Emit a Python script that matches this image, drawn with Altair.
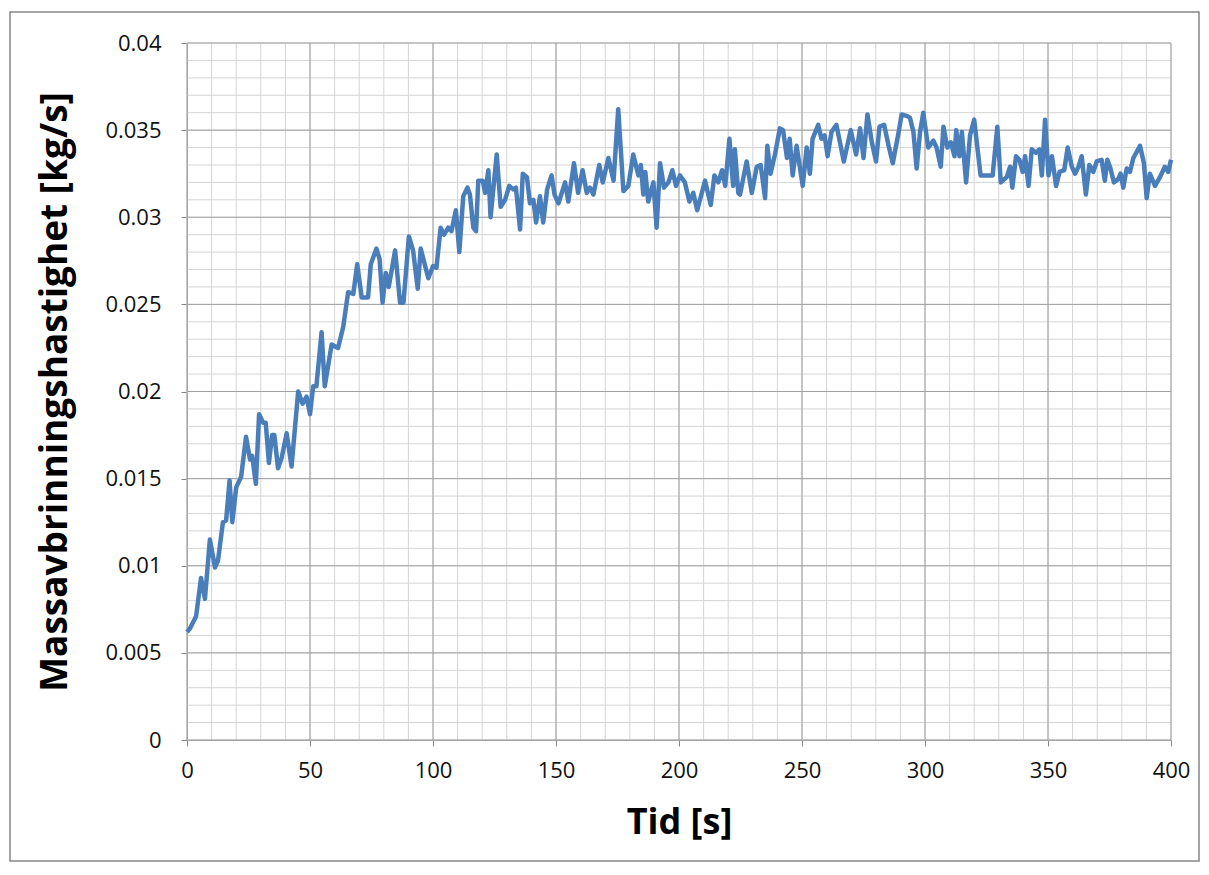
import altair as alt
import pandas as pd

# --- data ---
time_s = [0, 1.2, 3.7, 5.7, 7.3, 9.3, 11.4, 12.6, 14.6, 15.9, 17.3, 18.4, 20, 22, 24, 25.6, 26.5, 28,
          29.3, 31, 32, 33.3, 34.6, 35.5, 37, 38.5, 40.5, 42.5, 45.2, 47, 48.6, 50, 51.3, 52.6, 54.7,
          56, 58.8, 61.4, 63.5, 65.5, 67.6, 69.2, 71, 73.6, 74.7, 77, 78.3, 79.5, 80.8, 82, 84.6,
          86.6, 88, 90.2, 91.9, 93.8, 95, 98.1, 100, 101.4, 103.1, 104.5, 106.2, 107.5, 109.3,
          110.7, 112.3, 114, 115, 116.4, 117.5, 118.4, 120.2, 121.2, 122.5, 123.4, 125.9, 127.5,
          129.3, 131, 132.6, 133.7, 135.4, 136.5, 138.2, 139.4, 140.8, 141.9, 143.5, 144.8, 146.4,
          148.2, 149.4, 151, 153.7, 155, 157.3, 159, 160.8, 162.5, 163.8, 165.2, 167.6, 169, 171.3,
          173.4, 175.3, 177.4, 179.4, 181.4, 183.5, 184.5, 185.5, 186.3, 187.5, 189.6, 190.9, 192.3,
          193.9, 195.7, 197.3, 198.8, 200.4, 202.4, 204.2, 205.8, 207.4, 210.6, 212.9, 214.4, 216,
          217.5, 218.8, 220.5, 222, 222.7, 224.1, 224.8, 227.5, 229.6, 231.6, 233.2, 235, 235.9,
          237.2, 239, 241, 242.3, 243.9, 245, 246.2, 247.8, 250.3, 251.9, 253.2, 254.3, 256.6,
          257.9, 259.2, 260.4, 262, 264, 267, 269.8, 272, 273.6, 275, 276.6, 278.4, 280.1, 281.5,
          283.4, 285.2, 286.9, 289.3, 290.5, 292.8, 293.9, 295.3, 296.6, 298, 299.3, 301.3, 303.4,
          304.7, 306.4, 307.5, 309.1, 310.5, 312, 312.7, 314, 315, 316.7, 318.3, 320, 322.6, 325,
          327.5, 329.4, 330.8, 333.2, 334.6, 335.5, 337, 338.4, 339.7, 340.7, 342.1, 343.4, 345.1,
          346.5, 347.5, 348.8, 350.2, 351.6, 353.3, 354.7, 356.6, 358, 359.7, 361, 362.4, 363.7,
          365.4, 366.8, 368.4, 369.8, 371.8, 373.1, 374.1, 375.2, 376.8, 378.6, 379.5, 380.6, 382,
          383.3, 384.7, 387.4, 389, 390.1, 391.4, 393.5, 395.5, 397.5, 398.9, 400]
rate_kg_s = [0.0062, 0.0064, 0.0071, 0.0093, 0.0081, 0.0115, 0.0099, 0.0103, 0.0125, 0.0126, 0.0149,
             0.0125, 0.0145, 0.0151, 0.0174, 0.0161, 0.0163, 0.0147, 0.0187, 0.0182, 0.0182, 0.0159,
             0.0175, 0.0175, 0.0156, 0.0162, 0.0176, 0.0157, 0.0200, 0.0193, 0.0197, 0.0187, 0.0203,
             0.0203, 0.0234, 0.0203, 0.0227, 0.0225, 0.0237, 0.0257, 0.0256, 0.0273, 0.0254, 0.0254,
             0.0273, 0.0282, 0.0276, 0.0251, 0.0268, 0.0260, 0.0281, 0.0251, 0.0251, 0.0289, 0.0281,
             0.0259, 0.0282, 0.0265, 0.0272, 0.0271, 0.0294, 0.0290, 0.0294, 0.0292, 0.0304, 0.0280,
             0.0312, 0.0317, 0.0313, 0.0294, 0.0292, 0.0321, 0.0321, 0.0314, 0.0327, 0.0300, 0.0336,
             0.0306, 0.0310, 0.0318, 0.0316, 0.0317, 0.0293, 0.0325, 0.0323, 0.0308, 0.0310, 0.0297,
             0.0312, 0.0297, 0.0316, 0.0324, 0.0313, 0.0308, 0.0320, 0.0309, 0.0331, 0.0314, 0.0327,
             0.0314, 0.0317, 0.0313, 0.0330, 0.0320, 0.0334, 0.0321, 0.0362, 0.0315, 0.0318, 0.0336,
             0.0324, 0.0330, 0.0313, 0.0326, 0.0309, 0.0320, 0.0294, 0.0331, 0.0317, 0.0320, 0.0327,
             0.0318, 0.0324, 0.0320, 0.0309, 0.0314, 0.0304, 0.0321, 0.0307, 0.0324, 0.0320, 0.0327,
             0.0318, 0.0345, 0.0318, 0.0339, 0.0314, 0.0313, 0.0332, 0.0314, 0.0329, 0.0330, 0.0311,
             0.0341, 0.0325, 0.0336, 0.0351, 0.0350, 0.0334, 0.0345, 0.0324, 0.0341, 0.0318, 0.0340,
             0.0325, 0.0345, 0.0353, 0.0345, 0.0347, 0.0335, 0.0349, 0.0353, 0.0332, 0.0350, 0.0336,
             0.0351, 0.0334, 0.0359, 0.0343, 0.0332, 0.0352, 0.0353, 0.0341, 0.0331, 0.0349, 0.0359,
             0.0358, 0.0357, 0.0349, 0.0328, 0.0349, 0.0360, 0.0340, 0.0344, 0.0340, 0.0329, 0.0352,
             0.0340, 0.0343, 0.0335, 0.0350, 0.0335, 0.0349, 0.0320, 0.0347, 0.0356, 0.0324, 0.0324,
             0.0324, 0.0352, 0.0320, 0.0323, 0.0329, 0.0317, 0.0335, 0.0333, 0.0326, 0.0335, 0.0318,
             0.0339, 0.0337, 0.0339, 0.0324, 0.0356, 0.0324, 0.0335, 0.0318, 0.0326, 0.0327, 0.0340,
             0.0329, 0.0325, 0.0329, 0.0335, 0.0313, 0.0330, 0.0326, 0.0332, 0.0333, 0.0321, 0.0333,
             0.0329, 0.0320, 0.0322, 0.0325, 0.0317, 0.0328, 0.0326, 0.0334, 0.0341, 0.0331, 0.0311,
             0.0325, 0.0318, 0.0323, 0.0329, 0.0326, 0.0333]

x_major_ticks = [0, 50, 100, 150, 200, 250, 300, 350, 400]
y_major_ticks = [0, 0.005, 0.01, 0.015, 0.02, 0.025, 0.03, 0.035, 0.04]
x_minor_ticks = list(range(0, 401, 10))
y_minor_ticks = [i / 1000 for i in range(0, 41)]

x_title = "Tid [s]"
y_title = "Massavbrinningshastighet [kg/s]"

df = pd.DataFrame({"t": time_s, "v": rate_kg_s})
xs = alt.Scale(domain=[0, 400], nice=False, zero=False)
ys = alt.Scale(domain=[0, 0.04], nice=False, zero=False)

FONT = "Open Sans"

minor_x = alt.Chart(pd.DataFrame({"x": x_minor_ticks})).mark_rule(color="#d4d4d4", strokeWidth=1).encode(
    x=alt.X("x:Q", scale=xs))
minor_y = alt.Chart(pd.DataFrame({"y": y_minor_ticks})).mark_rule(color="#d4d4d4", strokeWidth=1).encode(
    y=alt.Y("y:Q", scale=ys))
major_x = alt.Chart(pd.DataFrame({"x": x_major_ticks})).mark_rule(color="#a0a0a0", strokeWidth=1).encode(
    x=alt.X("x:Q", scale=xs))
major_y = alt.Chart(pd.DataFrame({"y": y_major_ticks})).mark_rule(color="#a0a0a0", strokeWidth=1).encode(
    y=alt.Y("y:Q", scale=ys))

line = alt.Chart(df).mark_line(color="#4a7ebb", strokeWidth=4.5, strokeJoin="round").encode(
    x=alt.X("t:Q", scale=xs, title=x_title,
            axis=alt.Axis(values=x_major_ticks, grid=False, domainColor="#868686", tickColor="#868686",
                          tickSize=6, labelFontSize=22, labelColor="#111111", labelFont=FONT,
                          labelPadding=14, titleFontSize=36, titleFont=FONT, titleFontWeight="bold",
                          titleColor="#000000", titlePadding=24, labelFlush=False)),
    y=alt.Y("v:Q", scale=ys, title=y_title,
            axis=alt.Axis(values=y_major_ticks, grid=False, domainColor="#868686", tickColor="#868686",
                          tickSize=6, labelFontSize=22, labelColor="#111111", labelFont=FONT,
                          labelPadding=20, labelExpr="format(datum.value, '~g')",
                          titleFontSize=37, titleFont=FONT, titleFontWeight="bold",
                          titleColor="#000000", titlePadding=30, labelFlush=False)),
    order=alt.Order("t:Q"),
)

frame = alt.Chart(pd.DataFrame({"a": [0]})).mark_rect(
    fill=None, stroke="#868686", strokeWidth=1.5).encode(
    x=alt.value(-177), x2=alt.value(1012), y=alt.value(-31), y2=alt.value(818))

chart = alt.layer(minor_x, minor_y, major_x, major_y, line, frame).properties(
    width=984, height=697,
    autosize=alt.AutoSizeParams(type="none"),
    padding={"left": 179, "top": 35, "right": 30, "bottom": 124},
).configure_view(stroke=None)

chart.save("out.html", embed_options={"renderer": "svg", "actions": False})
